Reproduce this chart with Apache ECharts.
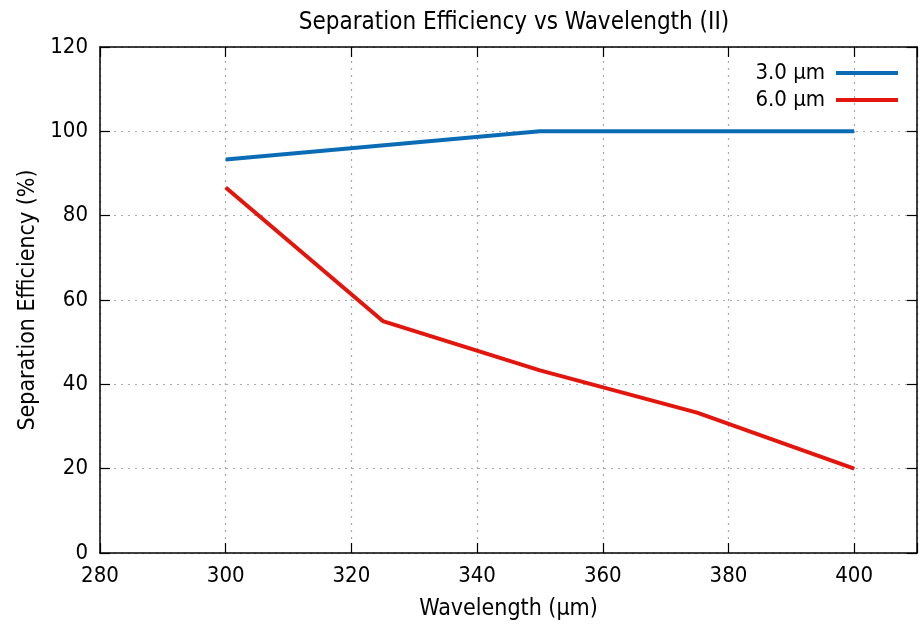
<!DOCTYPE html>
<html>
<head>
<meta charset="utf-8">
<script src="https://cdn.jsdelivr.net/npm/echarts@6/dist/echarts.min.js"></script>
<style>
  html, body { margin: 0; padding: 0; background: #fff; }
  #chart { width: 922px; height: 628px; }
</style>
</head>
<body>
<div id="chart"></div>
<script>
const wavelength3 = [300, 350, 400];
const eff3 = [93.3, 100, 100];
const wavelength6 = [300, 325, 350, 375, 400];
const eff6 = [86.7, 55, 43.3, 33.3, 20];
const seriesNames = ["3.0 µm", "6.0 µm"];

const font = "DejaVu Sans Condensed, DejaVu Sans, sans-serif";
const chart = echarts.init(document.getElementById("chart"));

const frameLine = { show: true, onZero: false, lineStyle: { color: "#000", width: 1.5 } };
const tickIn = { show: true, inside: true, length: 10, lineStyle: { color: "#000", width: 1.2 } };

chart.setOption({
  animation: false,
  title: {
    text: "Separation Efficiency vs Wavelength (II)",
    left: 509, top: 6, textAlign: "center",
    textStyle: { fontFamily: font, fontSize: 24, fontWeight: "normal", color: "#000" },
  },
  legend: {
    right: 19, top: 57, orient: "vertical", align: "right",
    itemWidth: 62, itemHeight: 4, itemGap: 5,
    icon: "rect",
    textStyle: { fontFamily: font, fontSize: 22, color: "#000", padding: [0, 6, 0, 0] },
    data: seriesNames,
  },
  grid: { left: 100, right: 5, top: 47, bottom: 75, outerBoundsMode: "none" },
  xAxis: [
    {
      type: "value", min: 280, max: 410, interval: 20,
      name: "Wavelength (µm)", nameLocation: "middle", nameGap: 45,
      nameTextStyle: { fontFamily: font, fontSize: 23, color: "#000" },
      axisLine: frameLine, axisTick: tickIn,
      axisLabel: { fontFamily: font, fontSize: 22, color: "#000", margin: 12,
        formatter: (v) => (v > 400 ? "" : v) },
      splitLine: { show: true, lineStyle: { color: "#aaa", type: [2, 5], width: 1.2 } },
    },
    {
      type: "value", min: 280, max: 410, interval: 20, position: "top",
      axisLine: frameLine, axisTick: tickIn, axisLabel: { show: false }, splitLine: { show: false },
    },
  ],
  yAxis: [
    {
      type: "value", min: 0, max: 120, interval: 20,
      name: "Separation Efficiency (%)", nameLocation: "middle", nameGap: 60,
      nameTextStyle: { fontFamily: font, fontSize: 23, color: "#000" },
      axisLine: frameLine, axisTick: tickIn,
      axisLabel: { fontFamily: font, fontSize: 22, color: "#000", margin: 12 },
      splitLine: { show: true, lineStyle: { color: "#aaa", type: [2, 5], width: 1.2 } },
    },
    {
      type: "value", min: 0, max: 120, interval: 20, position: "right",
      axisLine: frameLine, axisTick: tickIn, axisLabel: { show: false }, splitLine: { show: false },
    },
  ],
  series: [
    {
      name: seriesNames[0], type: "line", showSymbol: false,
      data: wavelength3.map((x, i) => [x, eff3[i]]),
      lineStyle: { color: "#0a6cb5", width: 4 }, itemStyle: { color: "#0a6cb5" },
    },
    {
      name: seriesNames[1], type: "line", showSymbol: false,
      data: wavelength6.map((x, i) => [x, eff6[i]]),
      lineStyle: { color: "#e3160e", width: 4 }, itemStyle: { color: "#e3160e" },
    },
  ],
});
</script>
</body>
</html>
